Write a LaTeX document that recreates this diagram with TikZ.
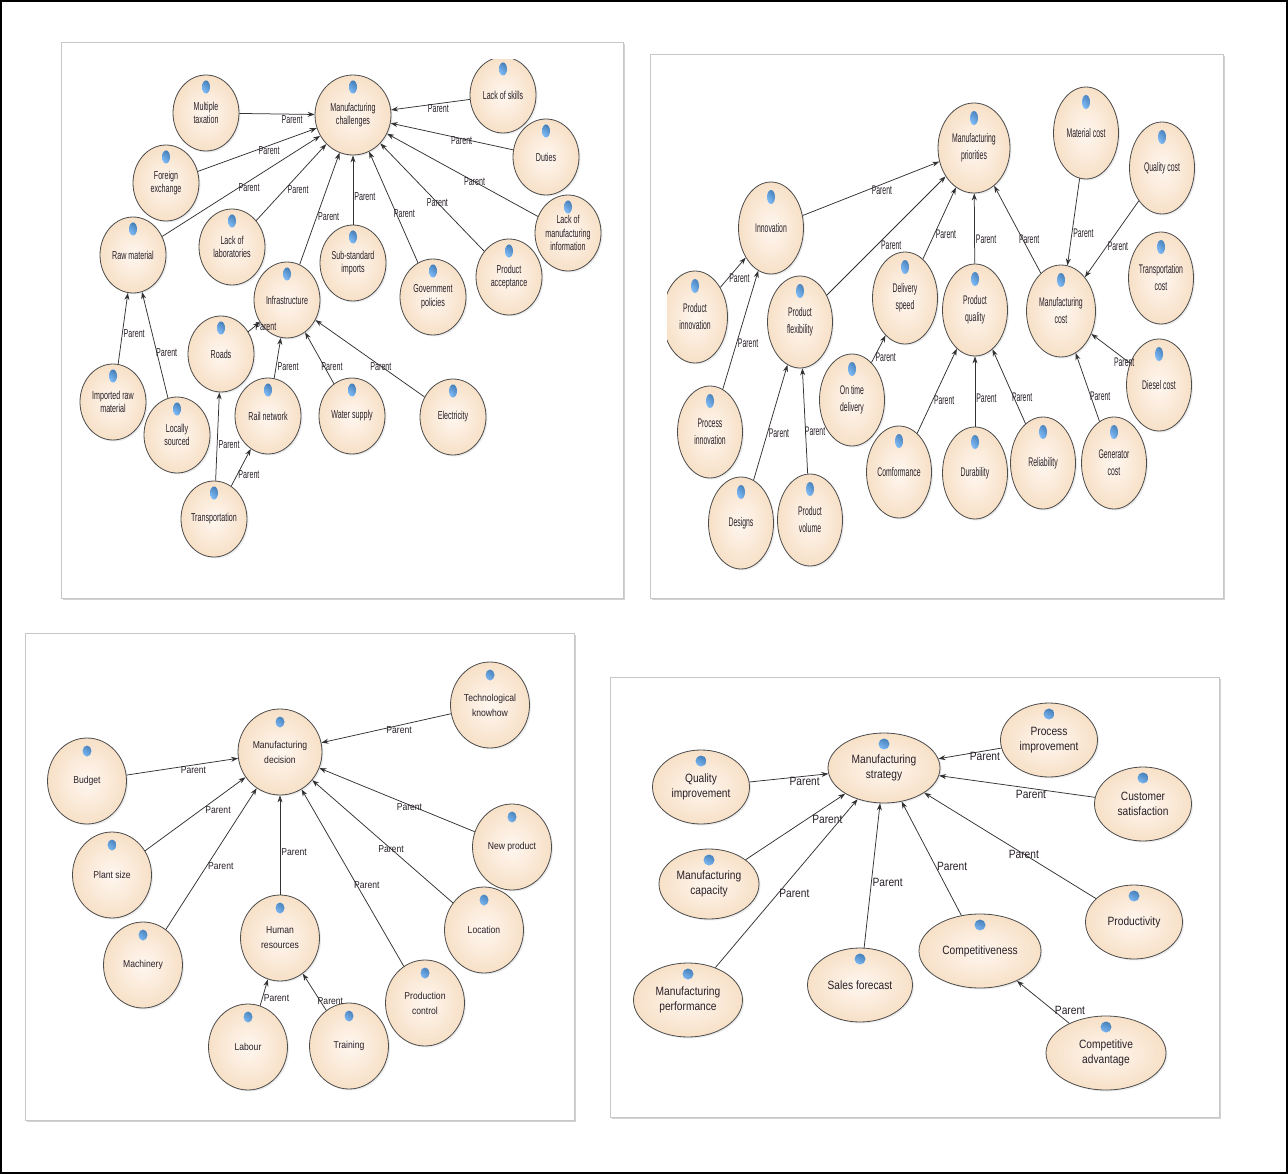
\documentclass[tikz,border=0pt]{standalone}
\usepackage{fontspec}
\setmainfont{Liberation Sans}
\newfontfamily\tlfont{Liberation Sans}[FakeStretch=0.62]
\newfontfamily\trfont{Liberation Sans}[FakeStretch=0.55]
\newfontfamily\blfont{Liberation Sans}[FakeStretch=0.86]
\newfontfamily\brfont{Liberation Sans}[FakeStretch=0.85]
\usetikzlibrary{arrows.meta,positioning,shapes.geometric,shadows,calc}

\definecolor{nodein}{RGB}{255,247,240}
\definecolor{nodeout}{RGB}{247,224,199}
\definecolor{iconblue}{RGB}{80,160,240}
\definecolor{linegray}{RGB}{50,50,50}
\definecolor{txtgray}{RGB}{40,32,40}

\begin{document}
\begin{tikzpicture}[x=1pt, y=-1pt,
  panel/.style={draw=black!22, fill=white, line width=0.8pt,
    drop shadow={shadow xshift=1.5pt, shadow yshift=-2pt, opacity=.35}},
  concept/.style={ellipse, draw=black!70, line width=0.8pt, inner sep=0pt,
    inner color=nodein, outer color=nodeout, align=center, text=txtgray,
    drop shadow={shadow xshift=1.5pt, shadow yshift=-1.5pt, opacity=.15}},
  icon/.style n args={3}{path picture={\shade[ball color=iconblue]
    ($(path picture bounding box.north)+(0,-#1)$) ellipse [x radius=#2, y radius=#3];}},
  tl/.style={concept, minimum width=66pt, minimum height=76pt, icon={12pt}{4pt}{6.5pt},
    font=\tlfont\fontsize{11.5}{13.7}\selectfont},
  tr/.style={concept, minimum width=65pt, minimum height=92pt, icon={15pt}{4pt}{7pt},
    font=\trfont\fontsize{12.5}{17}\selectfont},
  bl/.style={concept, minimum width=79pt, minimum height=86pt, icon={13pt}{4.5pt}{5.5pt},
    font=\blfont\fontsize{10}{15}\selectfont},
  br/.style={concept, minimum width=97pt, minimum height=74pt, icon={11pt}{5.5pt}{5.5pt},
    font=\brfont\fontsize{12}{15}\selectfont},
  rel/.style={draw=linegray, line width=0.75pt, -{Stealth[length=7pt, width=5pt]}},
  lbl/.style={inner sep=1pt, text=txtgray}
]
\useasboundingbox (0,0) rectangle (1288,1174);
\fill[white] (0,0) rectangle (1288,1174);

\path[panel] (61,42) rectangle (623,598);
\begin{scope}[lbl/.append style={font=\tlfont\fontsize{11.5}{12}\selectfont}]
\clip (62,60) rectangle (622,597);
\node[tl, minimum width=76pt, minimum height=80pt] (mchal) at (353,115) {Manufacturing\\challenges};
\node[tl] (mtax) at (206,113) {Multiple\\taxation};
\node[tl] (fexch) at (166,183) {Foreign\\exchange};
\node[tl] (rawm) at (133,255) {Raw material};
\node[tl] (lablack) at (232,247) {Lack of\\laboratories};
\node[tl] (infra) at (287,300) {Infrastructure};
\node[tl] (subimp) at (353,263) {Sub-standard\\imports};
\node[tl] (govpol) at (433,297) {Government\\policies};
\node[tl] (prodacc) at (509,277) {Product\\acceptance};
\node[tl] (manuinfo) at (568,233) {Lack of\\manufacturing\\information};
\node[tl] (duties) at (546,157) {Duties};
\node[tl] (skills) at (503,95) {Lack of skills};
\node[tl] (imprm) at (113,402) {Imported raw\\material};
\node[tl] (locsrc) at (177,435) {Locally\\sourced};
\node[tl] (roads) at (221,354) {Roads};
\node[tl] (rail) at (268,416) {Rail network};
\node[tl] (water) at (352,416) {Water supply};
\node[tl] (elec) at (453,417) {Electricity};
\node[tl] (transp) at (214,519) {Transportation};
\draw[rel] (mtax) -- node[lbl, pos=.7, below]{Parent} (mchal);
\draw[rel] (fexch) -- node[lbl, pos=.6, below]{Parent} (mchal);
\draw[rel] (rawm) -- node[lbl, pos=.55, below=1pt]{Parent} (mchal);
\draw[rel] (lablack) -- node[lbl, pos=.4, right=2pt]{Parent} (mchal);
\draw[rel] (infra) -- node[lbl, pos=.43, right]{Parent} (mchal);
\draw[rel] (subimp) -- node[lbl, pos=.4, right]{Parent} (mchal);
\draw[rel] (govpol) -- node[lbl, pos=.44, right=-4pt]{Parent} (mchal);
\draw[rel] (prodacc) -- node[lbl, pos=.45]{Parent} (mchal);
\draw[rel] (manuinfo) -- node[lbl, pos=.42]{Parent} (mchal);
\draw[rel] (duties) -- node[lbl, pos=.42, below=-3pt]{Parent} (mchal);
\draw[rel] (skills) -- node[lbl, pos=.4, below]{Parent} (mchal);
\draw[rel] (imprm) -- node[lbl, pos=.43, right]{Parent} (rawm);
\draw[rel] (locsrc) -- node[lbl, pos=.43, right=-2pt]{Parent} (rawm);
\draw[rel] (roads) -- node[lbl, pos=.5, right]{Parent} (infra);
\draw[rel] (rail) -- node[lbl, pos=.3, right]{Parent} (infra);
\draw[rel] (water) -- node[lbl, pos=.34, right=-4pt]{Parent} (infra);
\draw[rel] (elec) -- node[lbl, pos=.4]{Parent} (infra);
\draw[rel] (transp) -- node[lbl, pos=.41, right]{Parent} (roads);
\draw[rel] (transp) -- node[lbl, pos=.3, right]{Parent} (rail);
\end{scope}

\path[panel] (650,54) rectangle (1223,598);
\begin{scope}[lbl/.append style={font=\trfont\fontsize{12.5}{13}\selectfont}]
\clip (667,56) rectangle (1222,597);
\node[tr, minimum width=72pt, minimum height=90pt] (mprio) at (974,148) {Manufacturing\\priorities};
\node[tr] (matcost) at (1086,133) {Material cost};
\node[tr] (qualcost) at (1162,168) {Quality cost};
\node[tr] (trancost) at (1161,278) {Transportation\\cost};
\node[tr, minimum width=69pt] (mcost) at (1061,311) {Manufacturing\\cost};
\node[tr] (diesel) at (1159,385) {Diesel cost};
\node[tr] (gencost) at (1114,463) {Generator\\cost};
\node[tr] (reliab) at (1043,463) {Reliability};
\node[tr] (durab) at (975,473) {Durability};
\node[tr] (pqual) at (975,310) {Product\\quality};
\node[tr] (conform) at (899,472) {Comformance};
\node[tr] (ontime) at (852,400) {On time\\delivery};
\node[tr] (dspeed) at (905,298) {Delivery\\speed};
\node[tr] (innov) at (771,228) {Innovation};
\node[tr] (pinnov) at (695,317) {Product\\innovation};
\node[tr] (procinn) at (710,432) {Process\\innovation};
\node[tr] (pflex) at (800,322) {Product\\flexibility};
\node[tr] (designs) at (741,523) {Designs};
\node[tr] (pvol) at (810,520) {Product\\volume};
\draw[rel] (innov) -- node[lbl, pos=.58, below]{Parent} (mprio);
\draw[rel] (pflex) -- node[lbl, pos=.42, right=3pt]{Parent} (mprio);
\draw[rel] (dspeed) -- node[lbl, pos=.35, right]{Parent} (mprio);
\draw[rel] (pqual) -- node[lbl, pos=.35, right]{Parent} (mprio);
\draw[rel] (mcost) -- node[lbl, pos=.39, right=-5pt]{Parent} (mprio);
\draw[rel] (matcost) -- node[lbl, pos=.63, right]{Parent} (mcost);
\draw[rel] (qualcost) -- node[lbl, pos=.6, right]{Parent} (mcost);
\draw[rel] (diesel) -- node[lbl, pos=.15, below=-2pt]{Parent} (mcost);
\draw[rel] (gencost) -- node[lbl, pos=.37, right=-2pt]{Parent} (mcost);
\draw[rel] (pinnov) -- node[lbl, pos=.3, right]{Parent} (innov);
\draw[rel] (procinn) -- node[lbl, pos=.39, right]{Parent} (innov);
\draw[rel] (designs) -- node[lbl, pos=.41, right]{Parent} (pflex);
\draw[rel] (pvol) -- node[lbl, pos=.4, right=-2pt]{Parent} (pflex);
\draw[rel] (ontime) -- node[lbl, pos=.2, right]{Parent} (dspeed);
\draw[rel] (conform) -- node[lbl, pos=.39, right]{Parent} (pqual);
\draw[rel] (durab) -- node[lbl, pos=.4, right]{Parent} (pqual);
\draw[rel] (reliab) -- node[lbl, pos=.36, right=-3pt]{Parent} (pqual);
\end{scope}

\path[panel] (25,633) rectangle (574,1120);
\begin{scope}[lbl/.append style={font=\blfont\fontsize{10}{11}\selectfont}]
\node[bl, minimum width=84pt, minimum height=86pt] (mdec) at (280,752) {Manufacturing\\decision};
\node[bl] (tech) at (490,705) {Technological\\knowhow};
\node[bl] (budget) at (87,781) {Budget};
\node[bl] (plant) at (112,875) {Plant size};
\node[bl] (mach) at (143,965) {Machinery};
\node[bl] (hres) at (280,938) {Human\\resources};
\node[bl] (newprod) at (512,847) {New product};
\node[bl] (locat) at (484,930) {Location};
\node[bl] (prodctl) at (425,1003) {Production\\control};
\node[bl] (labour) at (248,1047) {Labour};
\node[bl] (train) at (349,1046) {Training};
\draw[rel] (tech) -- node[lbl, pos=.4, below]{Parent} (mdec);
\draw[rel] (budget) -- node[lbl, pos=.6, below]{Parent} (mdec);
\draw[rel] (plant) -- node[lbl, pos=.6, below right=-2pt]{Parent} (mdec);
\draw[rel] (mach) -- node[lbl, pos=.45, right]{Parent} (mdec);
\draw[rel] (hres) -- node[lbl, pos=.43, right]{Parent} (mdec);
\draw[rel] (prodctl) -- node[lbl, pos=.46, right=-4pt]{Parent} (mdec);
\draw[rel] (locat) -- node[lbl, pos=.44]{Parent} (mdec);
\draw[rel] (newprod) -- node[lbl, pos=.42, below=-3pt]{Parent} (mdec);
\draw[rel] (labour) -- node[lbl, pos=.3, right]{Parent} (hres);
\draw[rel] (train) -- node[lbl, pos=.25, right=-4pt]{Parent} (hres);
\end{scope}

\path[panel] (610,677) rectangle (1219,1117);
\begin{scope}[lbl/.append style={font=\brfont\fontsize{12}{13}\selectfont}]
\node[br, minimum width=112pt, minimum height=70pt] (mstrat) at (884,768) {Manufacturing\\strategy};
\node[br] (procimp) at (1049,740) {Process\\improvement};
\node[br] (custsat) at (1143,804) {Customer\\satisfaction};
\node[br] (qualimp) at (701,787) {Quality\\improvement};
\node[br, minimum width=100pt, minimum height=70pt] (mcap) at (709,884) {Manufacturing\\capacity};
\node[br, minimum width=109pt] (mperf) at (688,1000) {Manufacturing\\performance};
\node[br, minimum width=105pt] (sales) at (860,985) {Sales forecast};
\node[br, minimum width=122pt] (compet) at (980,951) {Competitiveness};
\node[br] (prodvty) at (1134,922) {Productivity};
\node[br, minimum width=120pt] (compadv) at (1106,1053) {Competitive\\advantage};
\draw[rel] (procimp) -- node[lbl, pos=.26, below]{Parent} (mstrat);
\draw[rel] (custsat) -- node[lbl, pos=.41, below]{Parent} (mstrat);
\draw[rel] (qualimp) -- node[lbl, pos=.7, below]{Parent} (mstrat);
\draw[rel] (mcap) -- node[lbl, pos=.67, below right=-2pt]{Parent} (mstrat);
\draw[rel] (mperf) -- node[lbl, pos=.44, right]{Parent} (mstrat);
\draw[rel] (sales) -- node[lbl, pos=.45, right]{Parent} (mstrat);
\draw[rel] (compet) -- node[lbl, pos=.43, right]{Parent} (mstrat);
\draw[rel] (prodvty) -- node[lbl, pos=.42]{Parent} (mstrat);
\draw[rel] (compadv) -- node[lbl, pos=.3, right]{Parent} (compet);
\end{scope}

\draw[line width=1.6pt] (1,1) rectangle (1287,1173);
\end{tikzpicture}
\end{document}
